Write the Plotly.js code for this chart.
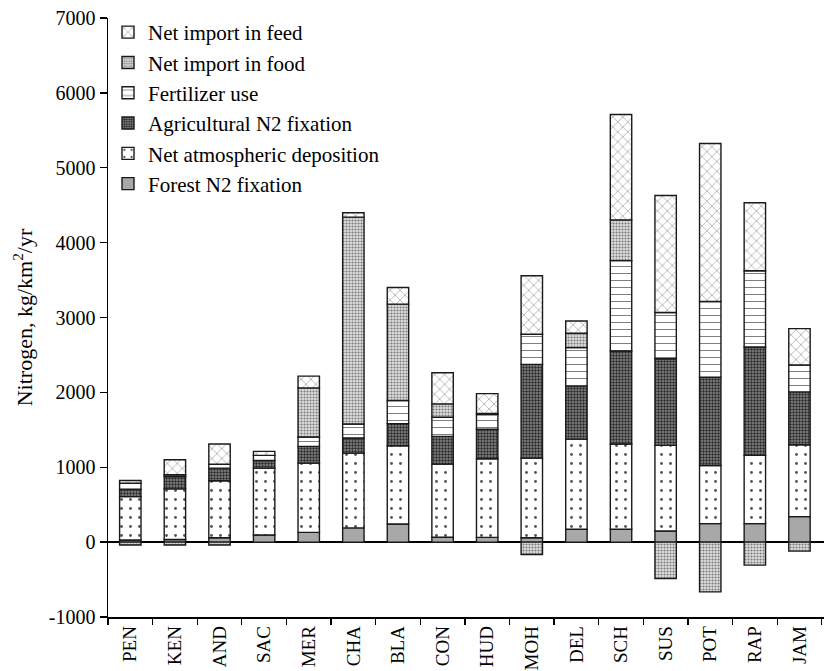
<!DOCTYPE html>
<html>
<head>
<meta charset="utf-8">
<script src="https://cdn.plot.ly/plotly-3.0.1.min.js"></script>
<style>html,body{margin:0;padding:0;background:#fff;}#chart{width:824px;height:671px;}</style>
</head>
<body>
<div id="chart"></div>
<script>
// Categories (watersheds)
const basins = ["PEN","KEN","AND","SAC","MER","CHA","BLA","CON","HUD","MOH","DEL","SCH","SUS","POT","RAP","JAM"];

// Series values, kg N/km2/yr
const forestFix   = [28, 36, 59, 95, 130, 190, 242, 66, 64, 59, 171, 171, 148, 247, 247, 340];
const atmDep      = [580, 675, 760, 893, 925, 999, 1046, 976, 1049, 1063, 1204, 1139, 1144, 777, 911, 961];
const agriFix     = [99, 166, 169, 103, 224, 201, 295, 371, 395, 1252, 708, 1242, 1157, 1180, 1448, 706];
const fertilizer  = [80, 22, 53, 67, 125, 188, 308, 255, 196, 402, 514, 1207, 617, 1009, 1019, 358];
const foodImport  = [-39, -39, -39, 0, 656, 2762, 1287, 178, 15, -165, 192, 545, -486, -665, -307, -120];
const feedImport  = [36, 201, 269, 54, 157, 58, 223, 416, 264, 782, 165, 1407, 1564, 2110, 907, 486];

// Axis tick labels
const yTickVals = [-1000, 0, 1000, 2000, 3000, 4000, 5000, 6000, 7000];
const yTickText = ["-1000", "0", "1000", "2000", "3000", "4000", "5000", "6000", "7000"];

const FONT = "Liberation Serif";
const lineStyle = {color: "#1a1a1a", width: 1.4};

function bar(name, y, rank, pattern) {
  return {
    type: "bar", name: name, x: basins, y: y, legendrank: rank,
    marker: {color: pattern.bg, line: lineStyle, pattern: pattern.p},
    hoverinfo: "x+y+name"
  };
}

const traces = [
  bar("Forest N2 fixation", forestFix, 6, {bg: "#a8a8a8", p: {shape: ""}}),
  bar("Net atmospheric deposition", atmDep, 5, {bg: "#ffffff", p: {shape: ".", fgcolor: "#555", bgcolor: "#ffffff", size: 9, solidity: 0.08}}),
  bar("Agricultural N2 fixation", agriFix, 4, {bg: "#6a6a6a", p: {shape: ".", fgcolor: "#2a2a2a", bgcolor: "#8a8a8a", size: 3, solidity: 0.5}}),
  bar("Fertilizer use", fertilizer, 3, {bg: "#ffffff", p: {shape: "-", fgcolor: "#666", bgcolor: "#ffffff", size: 7, solidity: 0.12}}),
  bar("Net import in food", foodImport, 2, {bg: "#cfcfcf", p: {shape: ".", fgcolor: "#7a7a7a", bgcolor: "#dedede", size: 3, solidity: 0.4}}),
  bar("Net import in feed", feedImport, 1, {bg: "#ffffff", p: {shape: "x", fgcolor: "#666", bgcolor: "#ffffff", size: 7, solidity: 0.12}})
];

const layout = {
  width: 824, height: 671,
  margin: {l: 108, r: 0, t: 18, b: 54},
  paper_bgcolor: "#fff", plot_bgcolor: "#fff",
  font: {family: FONT, size: 20, color: "#000"},
  barmode: "relative",
  bargap: 0.52,
  showlegend: true,
  legend: {
    x: 0.0, y: 1.01, xanchor: "left", yanchor: "top",
    traceorder: "normal",
    font: {family: FONT, size: 21, color: "#000"},
    bgcolor: "rgba(0,0,0,0)", itemwidth: 30
  },
  xaxis: {
    type: "category",
    range: [-0.5, 15.55],
    showline: true, linecolor: "#000", linewidth: 1.5,
    ticks: "outside", tickson: "boundaries", ticklen: 6, tickcolor: "#000", tickwidth: 1.3,
    tickangle: -90, tickfont: {family: FONT, size: 19},
    showgrid: false, zeroline: false, fixedrange: true
  },
  yaxis: {
    range: [-1000, 7000],
    tickvals: yTickVals, ticktext: yTickText,
    showline: true, linecolor: "#000", linewidth: 1.5,
    ticks: "outside", ticklen: 7, tickcolor: "#000", tickwidth: 1.3,
    showgrid: false,
    zeroline: true, zerolinecolor: "#000", zerolinewidth: 1.5,
    tickfont: {family: FONT, size: 20},
    title: {text: "Nitrogen, kg/km<sup>2</sup>/yr", font: {family: FONT, size: 22}, standoff: 10},
    fixedrange: true
  }
};

Plotly.newPlot("chart", traces, layout, {displayModeBar: false, staticPlot: true});
</script>
</body>
</html>
